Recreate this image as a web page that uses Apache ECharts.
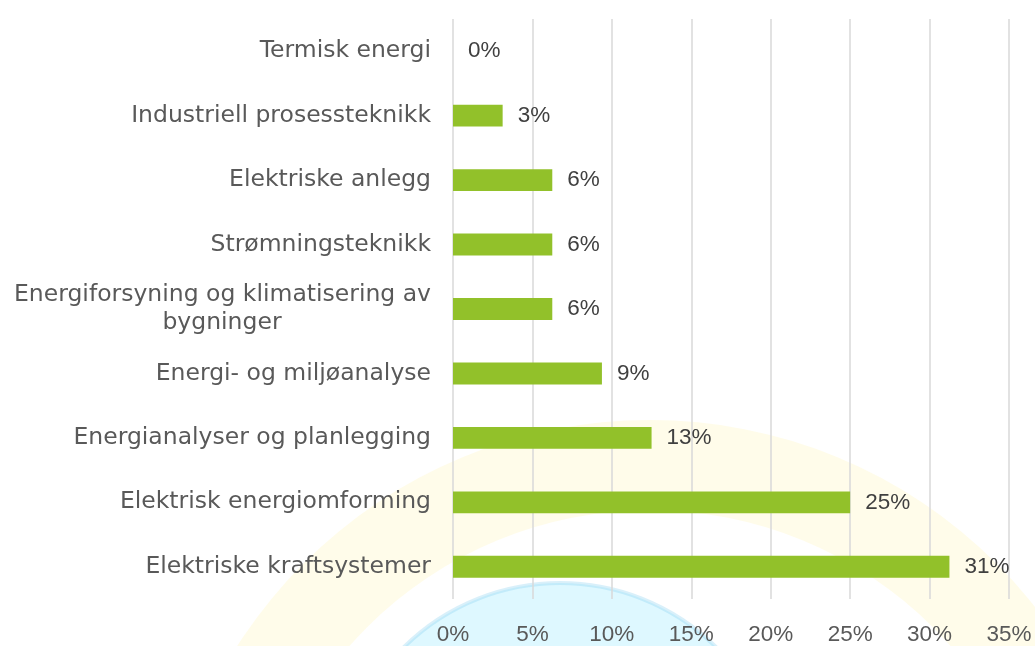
<!DOCTYPE html>
<html>
<head>
<meta charset="utf-8">
<script src="https://cdn.jsdelivr.net/npm/echarts@6/dist/echarts.min.js"></script>
<style>
  html, body { margin: 0; padding: 0; background: #fff; }
  #chart { width: 1035px; height: 646px; }
</style>
</head>
<body>
<div id="chart"></div>
<script>
// categories, top to bottom
const categories = [
    "Termisk energi",
    "Industriell prosessteknikk",
    "Elektriske anlegg",
    "Strømningsteknikk",
    "Energiforsyning og klimatisering av bygninger",
    "Energi- og miljøanalyse",
    "Energianalyser og planlegging",
    "Elektrisk energiomforming",
    "Elektriske kraftsystemer",
];
// share in percent
const shares = [0, 3.125, 6.25, 6.25, 6.25, 9.375, 12.5, 25, 31.25];
const xTicks = { min: 0, max: 35, step: 5 };

const catFamily = '"DejaVu Sans", sans-serif';
const catSize = 23.5;
const numFamily = '"Liberation Sans", Arial, sans-serif';
const wrapAt = "Energiforsyning og klimatisering av";

// measure first line so the wrapped second line can be centred under it
const ctx = document.createElement("canvas").getContext("2d");
ctx.font = catSize + "px " + catFamily;
const firstLineW = Math.ceil(ctx.measureText(wrapAt).width);

const chart = echarts.init(document.getElementById("chart"));

const option = {
    backgroundColor: "#ffffff",
    // faint logo watermark behind the plot
    graphic: [
        {
            type: "ring",
            z: -10,
            silent: true,
            shape: { cx: 650, cy: 910, r: 490, r0: 400 },
            style: { fill: "rgba(255, 235, 90, 0.13)" },
        },
        {
            type: "circle",
            z: -10,
            silent: true,
            shape: { cx: 560, cy: 805, r: 222 },
            style: {
                fill: "rgba(200, 243, 255, 0.6)",
                stroke: "rgba(130, 205, 240, 0.3)",
                lineWidth: 4,
            },
        },
    ],
    grid: {
        left: 453,
        right: 26,
        top: 19,
        bottom: 44,
        containLabel: false,
    },
    xAxis: {
        type: "value",
        min: xTicks.min,
        max: xTicks.max,
        interval: xTicks.step,
        axisLine: { show: false },
        axisTick: { show: false },
        splitLine: { lineStyle: { color: "#d9d9d9", width: 1.5 } },
        axisLabel: {
            formatter: "{value}%",
            color: "#595959",
            fontFamily: numFamily,
            fontSize: 22.5,
            margin: 24,
        },
    },
    yAxis: {
        type: "category",
        data: categories,
        inverse: true,
        axisLine: { show: false },
        axisTick: { show: false },
        axisLabel: {
            color: "#595959",
            fontFamily: catFamily,
            fontSize: catSize,
            margin: 22,
            lineHeight: 28,
            formatter: (v) => {
                if (v.startsWith(wrapAt + " ")) {
                    return wrapAt + "\n{c|" + v.slice(wrapAt.length + 1) + "}";
                }
                return v;
            },
            rich: {
                c: {
                    width: firstLineW,
                    align: "center",
                    color: "#595959",
                    fontFamily: catFamily,
                    fontSize: catSize,
                    lineHeight: 28,
                },
            },
        },
    },
    series: [
        {
            type: "bar",
            data: shares,
            barCategoryGap: "66%",
            itemStyle: { color: "#92c12a" },
            label: {
                show: true,
                position: "right",
                distance: 15,
                color: "#404040",
                fontFamily: numFamily,
                fontSize: 22.5,
                formatter: (p) => Math.round(p.value) + "%",
            },
        },
    ],
};

option && chart.setOption(option);
</script>
</body>
</html>
